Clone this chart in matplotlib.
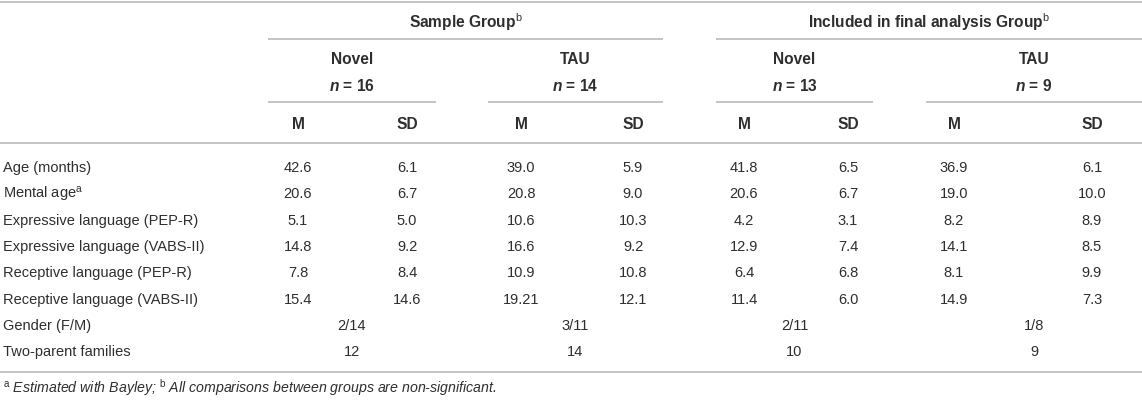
import matplotlib
matplotlib.use("Agg")
import matplotlib.pyplot as plt

plt.rcParams['font.family'] = ['Liberation Sans', 'DejaVu Sans']
plt.rcParams['mathtext.fontset'] = 'custom'
plt.rcParams['mathtext.rm'] = 'Liberation Sans'
plt.rcParams['mathtext.it'] = 'Liberation Sans:italic:bold'
plt.rcParams['mathtext.bf'] = 'Liberation Sans:bold'

# table content
group_titles = ['Sample Group$^{\\mathrm{b}}$', 'Included in final analysis Group$^{\\mathrm{b}}$']
sub_groups = ['Novel', 'TAU', 'Novel', 'TAU']
sub_n = [16, 14, 13, 9]
col_heads = ['M', 'SD'] * 4
row_labels = ['Age (months)', 'Mental age$^{\\mathrm{a}}$', 'Expressive language (PEP-R)',
              'Expressive language (VABS-II)', 'Receptive language (PEP-R)',
              'Receptive language (VABS-II)']
values = [
    ['42.6', '6.1', '39.0', '5.9', '41.8', '6.5', '36.9', '6.1'],
    ['20.6', '6.7', '20.8', '9.0', '20.6', '6.7', '19.0', '10.0'],
    ['5.1', '5.0', '10.6', '10.3', '4.2', '3.1', '8.2', '8.9'],
    ['14.8', '9.2', '16.6', '9.2', '12.9', '7.4', '14.1', '8.5'],
    ['7.8', '8.4', '10.9', '10.8', '6.4', '6.8', '8.1', '9.9'],
    ['15.4', '14.6', '19.21', '12.1', '11.4', '6.0', '14.9', '7.3'],
]
span_labels = ['Gender (F/M)', 'Two-parent families']
span_values = [['2/14', '3/11', '2/11', '1/8'],
               ['12', '14', '10', '9']]
footnote = ('$^{\\mathrm{a}}$ Estimated with Bayley; $^{\\mathrm{b}}$ '
            'All comparisons between groups are non-significant.')

# layout (pixels)
W, H = 1142, 402
col_x = [298, 407, 521, 633, 744, 848, 954, 1092]
sub_span = [(268, 436), (488, 663), (716, 873), (926, 1142)]
grp_span = [(268, 663), (716, 1142)]
row_y = [167, 193, 220, 246, 272, 299, 325, 351]
txt = '#2e2e2e'
line_c = '#c4c4c4'
fs = 10.5     # body
fh = 11.2     # bold headers
ff = 10.2     # footnote

fig = plt.figure(figsize=(W / 100, H / 100), dpi=100)
ax = fig.add_axes([0, 0, 1, 1])
ax.set_xlim(0, W)
ax.set_ylim(H, 0)
ax.axis('off')

def hline(x0, x1, y):
    ax.plot([x0, x1], [y, y], color=line_c, lw=1.4, solid_capstyle='butt')

def put(x, y, s, size, ha='center', **kw):
    # y is the visual middle of capital letters; place on baseline
    ax.text(x, y + size * 100 / 72 * 0.716 / 2, s, ha=ha, va='baseline',
            fontsize=size, color=txt, **kw)

hline(0, W, 3)
hline(0, W, 144)
hline(0, W, 373)

for (x0, x1), t in zip(grp_span, group_titles):
    put((x0 + x1) / 2, 22, t, fh, fontweight='bold')
    hline(x0, x1, 40)

for (x0, x1), g, n in zip(sub_span, sub_groups, sub_n):
    cx = (x0 + x1) / 2
    put(cx, 58, g, fh, fontweight='bold')
    put(cx, 85, '$n$ = %d' % n, fh, fontweight='bold')
    hline(x0, x1, 103)

for x, h in zip(col_x, col_heads):
    put(x, 123, h, fh, fontweight='bold')

for y, lab, vals in zip(row_y, row_labels, values):
    put(3, y, lab, fs, ha='left')
    for x, v in zip(col_x, vals):
        put(x, y, v, fs)

for y, lab, vals in zip(row_y[6:], span_labels, span_values):
    put(3, y, lab, fs, ha='left')
    for (x0, x1), v in zip(sub_span, vals):
        put((x0 + x1) / 2, y, v, fs)

put(3, 388, footnote, ff, ha='left', style='italic')

fig.savefig('out.png', dpi=100)
